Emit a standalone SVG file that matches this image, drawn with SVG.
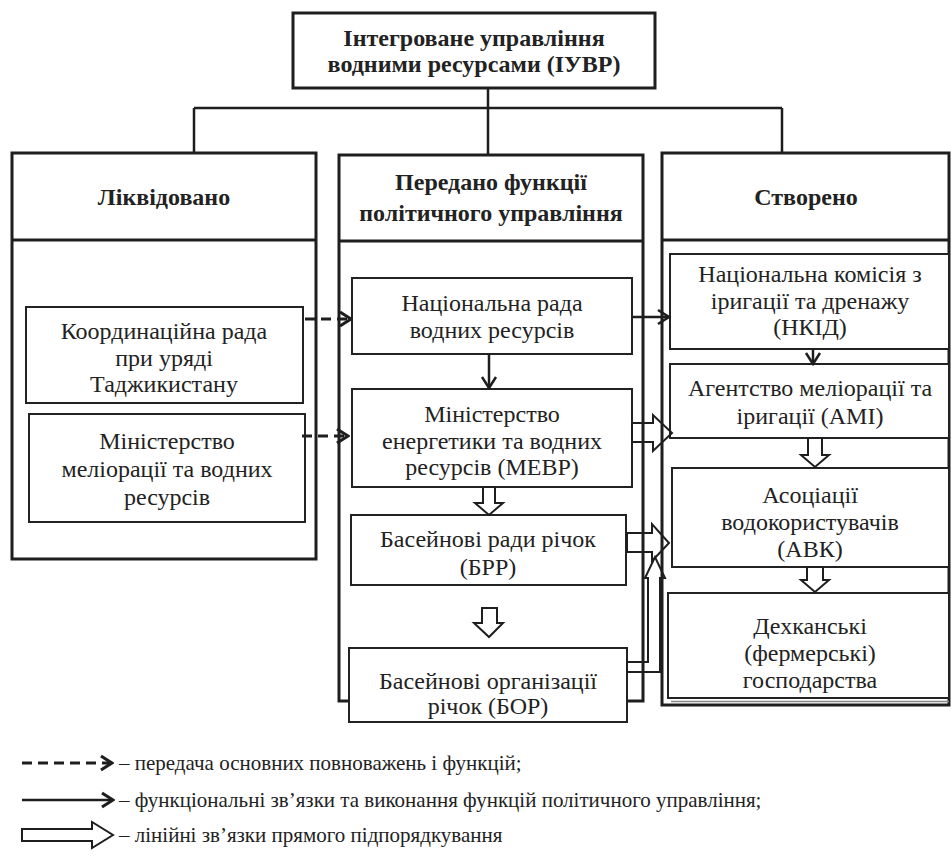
<svg xmlns="http://www.w3.org/2000/svg" width="951" height="857" viewBox="0 0 951 857">
<style>
.col{fill:#fff;stroke:#1e1e1e;stroke-width:3}
.box{fill:#fff;stroke:#222;stroke-width:2}
.t{font-size:24px;fill:#222;text-anchor:middle}
.h{font-weight:bold}
.lg{font-size:21px;fill:#222}
.ln{fill:none;stroke:#1e1e1e;stroke-width:2.5}
.dash{fill:none;stroke:#1e1e1e;stroke-width:3;stroke-dasharray:10,6}
.hol{fill:none;stroke:#1e1e1e;stroke-width:2}
</style>
<defs>
<marker id="vh" markerUnits="userSpaceOnUse" viewBox="-14 -10 16 20" markerWidth="16" markerHeight="20" refX="0" refY="0" orient="auto">
<path d="M-11,-7 L0,0 L-11,7" fill="none" stroke="#1e1e1e" stroke-width="2.5"/>
</marker>
<marker id="ch" markerUnits="userSpaceOnUse" viewBox="-14 -10 16 20" markerWidth="16" markerHeight="20" refX="0" refY="0" orient="auto">
<path d="M-11,-7 L0,0 L-11,7" fill="none" stroke="#1e1e1e" stroke-width="3.2"/>
</marker>
</defs>
<rect width="951" height="857" fill="#fff"/>
<g font-family="Liberation Serif, Times New Roman, DejaVu Serif, serif">
<g id="top">
<rect class="col" x="293" y="13" width="362" height="75"/>
<text class="t h" x="474" y="46">Інтегроване управління</text>
<text class="t h" x="474" y="72">водними ресурсами (ІУВР)</text>
</g>

<g id="col-left">
<rect class="col" x="12" y="153" width="304" height="406"/>
<line class="col" x1="12" y1="240" x2="316" y2="240"/>
<text class="t h" x="164" y="205">Ліквідовано</text>
</g>
<g id="col-mid">
<rect class="col" x="339" y="155" width="304" height="546"/>
<line class="col" x1="339" y1="241" x2="643" y2="241"/>
<text class="t h" x="491" y="190">Передано функції</text>
<text class="t h" x="491" y="221">політичного управління</text>
</g>
<g id="col-right">
<rect class="col" x="662" y="153" width="287" height="552"/>
<line class="col" x1="662" y1="240" x2="949" y2="240"/>
<text class="t h" x="806" y="205">Створено</text>
</g>

<g id="kr">
<rect class="box" x="26" y="307" width="277" height="96"/>
<text class="t" x="164" y="339">Координаційна рада</text>
<text class="t" x="164" y="366">при уряді</text>
<text class="t" x="164" y="392">Таджикистану</text>
</g>
<g id="mmvr">
<rect class="box" x="29" y="414" width="276" height="108"/>
<text class="t" x="167" y="449">Міністерство</text>
<text class="t" x="167" y="477">меліорації та водних</text>
<text class="t" x="167" y="505">ресурсів</text>
</g>

<g id="nrvr">
<rect class="box" x="352" y="278" width="280" height="76"/>
<text class="t" x="492" y="311">Національна рада</text>
<text class="t" x="492" y="338">водних ресурсів</text>
</g>
<g id="mevr">
<rect class="box" x="352" y="389" width="280" height="98"/>
<text class="t" x="492" y="422">Міністерство</text>
<text class="t" x="492" y="449">енергетики та водних</text>
<text class="t" x="492" y="475">ресурсів (МЕВР)</text>
</g>
<g id="brr">
<rect class="box" x="351" y="515" width="275" height="70"/>
<text class="t" x="488" y="547">Басейнові ради річок</text>
<text class="t" x="488" y="575">(БРР)</text>
</g>
<g id="bor">
<rect class="box" x="349" y="648" width="278" height="74"/>
<text class="t" x="488" y="689">Басейнові організації</text>
<text class="t" x="488" y="714">річок (БОР)</text>
</g>

<g id="nkid">
<rect class="box" x="670" y="254" width="279" height="95"/>
<text class="t" x="810" y="282">Національна комісія з</text>
<text class="t" x="810" y="309">іригації та дренажу</text>
<text class="t" x="810" y="335">(НКІД)</text>
</g>
<g id="ami">
<rect class="box" x="670" y="364" width="279" height="74"/>
<text class="t" x="810" y="396">Агентство меліорації та</text>
<text class="t" x="810" y="424">іригації (АМІ)</text>
</g>
<g id="avk">
<rect class="box" x="672" y="468" width="277" height="99" stroke-width="2.5"/>
<text class="t" x="810" y="503">Асоціації</text>
<text class="t" x="810" y="530">водокористувачів</text>
<text class="t" x="810" y="557">(АВК)</text>
</g>
<g id="dekh">
<line x1="671" y1="701.5" x2="949" y2="701.5" stroke="#888" stroke-width="1.5"/>
<rect class="box" x="668" y="593" width="281" height="105"/>
<text class="t" x="810" y="634">Дехканські</text>
<text class="t" x="810" y="661">(фермерські)</text>
<text class="t" x="810" y="688">господарства</text>
</g>

<g id="connectors">
<path class="ln" d="M488,88 V155 M194,108 H782 M194,108 V153 M782,108 V153"/>
<path class="dash" d="M305,319 H351" marker-end="url(#ch)"/>
<path class="dash" d="M302,436 H348" marker-end="url(#ch)"/>
<path class="ln" d="M489,354 V388" marker-end="url(#vh)"/>
<path class="ln" d="M632,317 H669" marker-end="url(#vh)"/>
<path class="ln" d="M813,349 V364" marker-end="url(#vh)"/>
<polygon class="hol" points="483,487 495,487 495,503 503,503 489,515 475,503 483,503"/>
<polygon class="hol" points="482,608 497,608 497,623 503,623 489,637 474,623 482,623"/>
<polygon class="hol" points="808,438 822,438 822,455 829,455 815,467 801,455 808,455"/>
<polygon class="hol" points="807,567 823,567 823,580 829,580 815,592 801,580 807,580"/>
<polygon class="hol" points="632,423 653,423 653,415 672,433 653,451 653,442 632,442"/>
<polygon class="hol" points="627,533 652,533 652,524 669,543 652,561 652,552 627,552"/>
<polygon class="hol" points="627,662 648,662 648,578 645,578 655,557 665,578 660,578 660,672 627,672"/>
</g>

<g id="legend">
<path class="dash" d="M22,763 H112" stroke-dasharray="9,6" marker-end="url(#ch)"/>
<text class="lg" x="119" y="770">– передача основних повноважень і функцій;</text>
<path class="ln" d="M22,800 H113" stroke-width="3" marker-end="url(#ch)"/>
<text class="lg" x="119" y="807">– функціональні зв’язки та виконання функцій політичного управління;</text>
<polygon class="hol" points="22,829 92,829 92,822 113,835 92,848 92,841 22,841"/>
<text class="lg" x="119" y="842">– лінійні зв’язки прямого підпорядкування</text>
</g>
</g>
</svg>
